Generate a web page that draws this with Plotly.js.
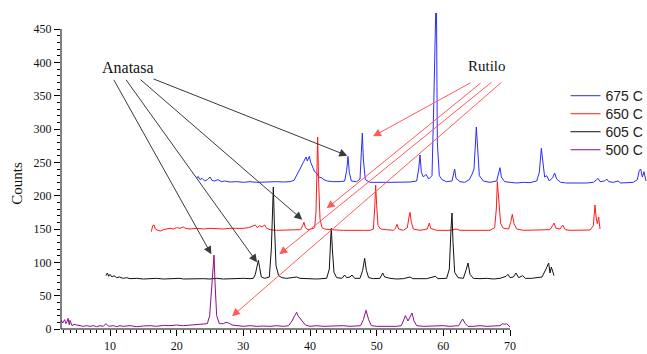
<!DOCTYPE html>
<html>
<head>
<meta charset="utf-8">
<script src="https://cdn.plot.ly/plotly-3.0.1.min.js"></script>
<style>html,body{margin:0;padding:0;background:#fff;}#chart{width:647px;height:354px;}</style>
</head>
<body>
<div id="chart"></div>
<script>
// ---- Data (plotted, offset waterfall coordinates) ----
const seriesNames = ['675 C', '650 C', '605 C', '500 C'];

const x675 = [23.0,23.2,23.5,23.8,24.2,24.6,25.0,25.3,25.7,26.2,26.7,27.2,28,29,30,31,32,33,34,35,36,37,37.6,38.0,38.5,39.0,39.4,39.6,39.9,40.1,40.4,40.7,41.0,41.3,41.7,42.1,42.6,43.4,44.5,45.2,45.5,45.7,45.9,46.2,47.0,47.5,47.7,47.85,48.0,48.3,49,50,51,52,53,54,55,56.0,56.3,56.5,56.7,57.0,57.4,57.8,58.3,58.55,58.75,58.95,59.1,59.4,59.8,60.5,61.3,61.55,61.7,61.9,62.5,63.2,63.9,64.3,64.6,64.95,65.15,65.4,66,67,68.0,68.35,68.5,68.7,69.2,70,71,72,73,74.0,74.4,74.7,74.95,75.2,75.5,75.9,76.4,76.7,77.0,77.6,78.5,79.5,80.5,81.5,82.5,83.0,83.2,83.5,84.2,84.5,84.8,85.5,86.2,86.6,87.5,88.5,89.1,89.4,89.6,89.85,90.1,90.4];
const y675 = [226,229,224,226,222,224,228,223,222,224,221,222,220.5,221,220,221,220,220.5,220,221,220.5,221,223,230,240,250,258,252,259,250,244,236,234,228,227,224,222,221,221,222,238,259,235,222,221,225,265,294,255,224,220,220.5,220,220,220,220,220.5,222,240,261,235,228,232,225,230,330,520,520,280,230,224,221,222,233,240,226,221,220,224,232,240,303,265,230,222,220,222,234,242,228,221,220,219,220,219.5,222,235,271,245,228,230,222,227,234,225,220,219,219.5,219,219,220,224,226,221,222,225,221,220,222,219,219,220,224,238,240,228,236,222];

const x650 = [16.2,16.4,16.6,16.8,17.2,17.6,18,18.5,19,19.5,20,20.5,21,21.3,22,23,24,25,26,27,28,29,30,30.8,31.5,31.8,32.1,32.4,32.8,33.2,33.5,34,35,36,37,38,38.6,38.9,39.1,39.3,39.7,40.2,40.7,40.9,41.05,41.15,41.3,41.5,41.8,42.2,43,44,45,46,47,48,49,49.5,49.7,49.85,50.0,50.2,50.6,51,51.5,52.5,52.8,53.05,53.3,54,54.6,54.85,55.0,55.2,55.5,56.5,57.6,57.9,58.1,59,60,61,61.9,62.5,64,65,66,67,67.7,67.95,68.1,68.3,68.6,69,69.8,70.1,70.35,70.6,71,72,73,74,75,76.0,76.4,76.6,76.9,77.5,77.9,78.3,79,80,81,82,82.5,82.75,82.95,83.1,83.3,83.5];
const y650 = [146,155,156,150,148,147,149,150,151,150,152,151,153,151,150,151,150,151,150,150,151,150.5,151,152,154,156,152,155,153,156,151,149,148,148,148,148,149,155,160,152,149,150,152,175,260,288,220,165,152,150,149,148,148,148,148.5,148,148,150,180,216,185,155,150,150,149,148,151,157,150,148,152,168,175,160,150,148,150,159,151,148,148,148,150,148,148,148,148,148,152,180,221,190,158,151,150,160,172,158,150,148,148,148,148,149,155,159,151,150,156,149,148,148,148,148.5,155,186,165,158,168,150];

const x605 = [9.4,9.6,9.8,10.0,10.3,10.6,11,11.4,12,12.5,13,14,15,16,17,18,19,20,20.5,21,22,23,24,25,26,27,28,29,30,31,31.5,31.8,32.1,32.25,32.45,32.7,33.2,33.9,34.2,34.4,34.5,34.65,34.9,35.3,35.8,36.5,37.5,38,38.5,39.5,40,41,42.5,42.9,43.1,43.2,43.35,43.6,44,44.8,45.2,45.5,46.0,46.3,46.7,47.5,47.9,48.2,48.45,48.8,49.5,50.5,50.9,51.2,52,53,54,55.0,55.4,56.5,57.5,58.8,59.2,60.5,60.9,61.15,61.3,61.45,61.7,62.2,63.0,63.4,63.7,64.0,64.5,65.5,66.5,67.5,68.5,69.4,69.7,70.0,70.5,70.9,71.3,71.9,72.3,73.2,74.0,74.8,75.4,75.8,76.0,76.2,76.6,76.9];
const y605 = [80,84,79,82,78,80,77,78,76,77,75.5,76,75,75.5,76,75,75.5,76,76,75,75.5,75,75.5,75,76,75,75.5,75,76,75.5,76,82,98,103,92,78,76,78,120,190,213,160,95,80,77,76,77,78,76,75.5,76,75,76,90,135,151,120,85,77,76,81,77,78,81,76,76,88,106,88,77,75.5,76,84,78,76,75,75.5,78,75.5,75,75.5,79,75.5,76,90,150,174,130,85,77,76,88,99,82,76,75.5,76,75,76,79,82,77,78,84,77,80,76,76,77,78,90,99,84,93,80];

const x500 = [2.7,2.9,3.2,3.4,3.6,3.7,3.9,4.0,4.3,4.6,5.0,5.5,6.0,6.5,7.0,7.5,8.0,8.5,9.0,9.4,9.8,10.5,11,11.5,12,13,14,15,16,17,18,19,20,21,22,23,24,24.6,24.95,25.25,25.45,25.6,25.75,26.0,26.4,27.0,27.4,27.8,28.3,29,30,31,32,33,34,35,36,36.8,37.3,37.7,38.0,38.2,38.5,38.9,39.3,40,41,42,43,44,45,46,47,47.6,48.0,48.4,48.8,49.2,50,51,52,53,53.7,54.0,54.3,54.7,55.0,55.3,55.6,56.0,57,58,59,60,61,62.3,62.7,62.9,63.3,63.7,64.5,65.5,66.5,67.5,68.5,68.9,69.2,69.5,69.8,70.0];
const y500 = [13,9,14,8,12,16,6,13,5,7,6,5,4,5,4,5,3.5,5,4,8,4,5,3.5,5,4,5,3.5,4.5,5,4,5.5,5,6,5,6,6.5,7,8,20,70,104,111,70,20,8,8,10,9,6,5,4,5,4,4.5,4,5,4,5,12,20,25,20,16,12,6,4,5,4,4.5,4,5,4,4,5,14,28,14,5,4,4.5,4,4,5,12,20,12,18,24,12,5,4,4.5,4,5,4,5,12,15,8,4,4,5,4,4.5,5,8,7,8,4,3];

const seriesX = [x675, x650, x605, x500];
const seriesY = [y675, y650, y605, y500];
const seriesColors = ['#2b2bff', '#ff1a1a', '#111111', '#8a0f8a'];

const xTickVals = [10, 20, 30, 40, 50, 60, 70];
const yTickVals = [0, 50, 100, 150, 200, 250, 300, 350, 400, 450];

// annotation arrows: [headX, headY, tailX, tailY]
const anatasaArrows = [[25.2,112,10.45,376],[32.05,100,12.25,376],[38.85,164,14.35,376],[45.6,260,16.3,376]];
const rutiloArrows = [[49.45,289,64.3,370.5],[42.5,181,65.8,370.5],[35.4,112,67.45,372],[28.3,19,68.95,372]];

// ---- Build ----
const legendIds = ['legend', 'legend2', 'legend3', 'legend4'];
const legendRowY = [0.737, 0.680, 0.623, 0.566];

const traces = seriesNames.map((n, i) => ({
  x: seriesX[i], y: seriesY[i], name: n, type: 'scatter', mode: 'lines',
  line: {color: seriesColors[i], width: 1}, legend: legendIds[i]
}));

const xMinor = [];
for (let v = 3; v < 70; v++) if (v % 10 !== 0) xMinor.push(v);
const yMinor = [];
for (let v = 0; v < 450; v += 10) if (v % 50 !== 0) yMinor.push(v);

const serif = 'Liberation Serif, Times New Roman, serif';
const annotations = [];
anatasaArrows.forEach(a => annotations.push({
  x: a[0], y: a[1], ax: a[2], ay: a[3], xref: 'x', yref: 'y', axref: 'x', ayref: 'y',
  text: '', showarrow: true, arrowhead: 2, arrowsize: 1.6, arrowwidth: 1, arrowcolor: '#3a3a3a', standoff: 0
}));
rutiloArrows.forEach(a => annotations.push({
  x: a[0], y: a[1], ax: a[2], ay: a[3], xref: 'x', yref: 'y', axref: 'x', ayref: 'y',
  text: '', showarrow: true, arrowhead: 2, arrowsize: 1.6, arrowwidth: 1, arrowcolor: '#ff5a5a', standoff: 0
}));
annotations.push({x: 12.7, y: 393, xref: 'x', yref: 'y', text: 'Anatasa', showarrow: false,
  font: {family: serif, size: 16, color: '#111'}});
annotations.push({x: 66.55, y: 394.5, xref: 'x', yref: 'y', text: 'Rutilo', showarrow: false,
  font: {family: serif, size: 15, color: '#111'}});
annotations.push({x: -0.075, y: 0.46, xref: 'paper', yref: 'paper', xanchor: 'center', yanchor: 'middle',
  text: 'Counts', textangle: -90, showarrow: false, font: {family: serif, size: 15, color: '#111'}});

const layout = {
  width: 647, height: 354,
  margin: {l: 61, r: 0, t: 13, b: 25, autoexpand: false},
  paper_bgcolor: '#ffffff', plot_bgcolor: '#ffffff',
  showlegend: true,
  xaxis: {range: [2.65, 90.55], showgrid: false, zeroline: false, showline: false, automargin: false,
    tickmode: 'array', tickvals: xTickVals, ticks: 'outside', ticklen: 6, tickwidth: 1, tickcolor: '#000',
    ticklabelstandoff: 0,
    minor: {tickmode: 'array', tickvals: xMinor, ticks: 'outside', ticklen: 3, tickwidth: 1, tickcolor: '#000', showgrid: false},
    tickfont: {family: serif, size: 12, color: '#111'}, fixedrange: true},
  yaxis: {range: [0, 474], showgrid: false, zeroline: false, showline: false, automargin: false,
    tickmode: 'array', tickvals: yTickVals, ticks: 'outside', ticklen: 6, tickwidth: 1, tickcolor: '#000',
    minor: {tickmode: 'array', tickvals: yMinor, ticks: 'outside', ticklen: 3, tickwidth: 1, tickcolor: '#000', showgrid: false},
    tickfont: {family: serif, size: 12, color: '#111'}, fixedrange: true},
  shapes: [
    {type: 'line', xref: 'paper', yref: 'y', x0: 0, x1: 0, y0: 0, y1: 450, line: {color: '#000', width: 1}},
    {type: 'line', xref: 'x', yref: 'paper', x0: 2.65, x1: 70, y0: 0, y1: 0, line: {color: '#000', width: 1}}
  ],
  annotations: annotations
};
legendIds.forEach((id, i) => {
  layout[id] = {x: 0.861, y: legendRowY[i], xanchor: 'left', yanchor: 'middle', bgcolor: 'rgba(0,0,0,0)',
    borderwidth: 0, font: {family: 'Liberation Sans, Arial, sans-serif', size: 14, color: '#222'}};
});

Plotly.newPlot('chart', traces, layout, {displayModeBar: false, staticPlot: true});
</script>
</body>
</html>
